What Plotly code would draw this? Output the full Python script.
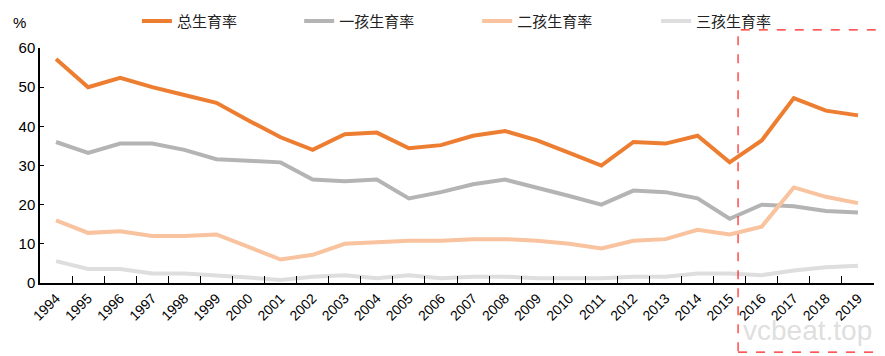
import plotly.graph_objects as go

years = [str(y) for y in range(1994, 2020)]
total = [57.2, 50.0, 52.4, 50.0, 48.0, 46.0, 41.5, 37.2, 34.0, 38.0, 38.4, 34.4, 35.2,
         37.6, 38.8, 36.4, 33.2, 30.0, 36.0, 35.6, 37.6, 30.8, 36.4, 47.2, 44.0, 42.8]
first = [36.0, 33.2, 35.6, 35.6, 34.0, 31.6, 31.2, 30.8, 26.4, 26.0, 26.4, 21.6, 23.2,
         25.2, 26.4, 24.4, 22.2, 20.0, 23.6, 23.2, 21.6, 16.4, 20.0, 19.6, 18.4, 18.0]
second = [16.0, 12.8, 13.2, 12.0, 12.0, 12.4, 9.2, 6.0, 7.2, 10.0, 10.4, 10.8, 10.8,
          11.2, 11.2, 10.8, 10.0, 8.8, 10.8, 11.2, 13.6, 12.4, 14.4, 24.4, 22.0, 20.4]
third = [5.6, 3.6, 3.6, 2.4, 2.4, 2.0, 1.4, 0.8, 1.6, 2.0, 1.2, 2.0, 1.2,
         1.6, 1.6, 1.2, 1.2, 1.2, 1.6, 1.6, 2.4, 2.4, 2.0, 3.2, 4.0, 4.4]

names = ["总生育率", "一孩生育率", "二孩生育率", "三孩生育率"]
colors = ["#ED7D31", "#B4B4B4", "#F8C39E", "#DEDEDE"]
series = [total, first, second, third]
legend_ids = ["legend", "legend2", "legend3", "legend4"]
legend_x = [0.147, 0.332, 0.535, 0.739]

font_fam = "Arial, Liberation Sans, Noto Sans CJK SC, sans-serif"

fig = go.Figure()
for name, vals, col, lg in zip(names, series, colors, legend_ids):
    fig.add_trace(go.Scatter(x=years, y=vals, name=name, mode="lines", legend=lg,
                             line=dict(color=col, width=4)))

legend_common = dict(orientation="h", xref="container", yref="container",
                     y=0.962, xanchor="left", yanchor="middle",
                     font=dict(size=15, color="#222", family="Noto Sans CJK SC, sans-serif"),
                     bgcolor="rgba(0,0,0,0)")

# page has an 8px body margin, so the figure is 8px smaller and shifted
layout_legends = {lg: dict(legend_common, x=lx) for lg, lx in zip(legend_ids, legend_x)}

fig.update_layout(
    width=877, height=348,
    margin=dict(l=32, r=11, t=40, b=73, autoexpand=False),
    paper_bgcolor="white", plot_bgcolor="white",
    font=dict(family=font_fam, size=14, color="#000"),
    showlegend=True,
    xaxis=dict(type="category", range=[-0.5, 25.5], showline=True, linecolor="#000",
               linewidth=1.5, ticks="inside", ticklen=7, tickcolor="#000",
               tickson="boundaries", tickangle=-45, showgrid=False, automargin=False,
               tickfont=dict(size=14, color="#000")),
    yaxis=dict(range=[0, 60], dtick=10, showline=True, linecolor="#000", linewidth=1.5,
               ticks="inside", ticklen=4, tickcolor="#000", showgrid=False, zeroline=False,
               automargin=False, tickfont=dict(size=15, color="#000")),
    shapes=[dict(type="rect", xref="paper", yref="paper", x0=0.837, x1=1.007,
                 y0=-0.294, y1=1.077, line=dict(color="#FF2020", width=1.2, dash="dash"))],
    annotations=[
        dict(text="%", xref="paper", yref="paper", x=-0.024, y=1.11, xanchor="center",
             yanchor="middle", showarrow=False, font=dict(size=15, color="#000")),
        dict(text="vcbeat.top", xref="paper", yref="paper", x=1.0, y=-0.2,
             xanchor="right", yanchor="middle", showarrow=False,
             font=dict(size=28, color="rgba(170,170,170,0.4)")),
    ],
    **layout_legends,
)

fig.write_html("out.html")
